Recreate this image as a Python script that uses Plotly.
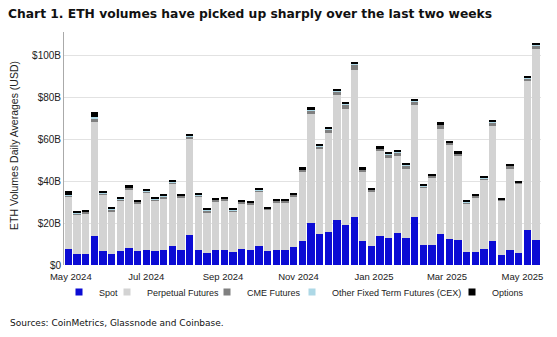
import plotly.graph_objects as go
import pandas as pd

weeks = pd.date_range("2024-04-29", periods=55, freq="7D")

spot = [7.6, 5.2, 5.2, 14.0, 6.8, 5.2, 6.8, 8.1, 6.5, 7.3, 6.5, 7.0, 9.0, 7.3,
        14.3, 7.3, 5.6, 7.3, 7.3, 6.2, 7.8, 7.3, 9.2, 6.5, 7.3, 7.0, 8.4, 11.6,
        19.8, 14.8, 15.9, 21.4, 18.9, 23.0, 11.3, 9.0, 13.7, 12.9, 15.2, 12.9, 23.0,
        9.5, 9.5, 14.8, 12.5, 12.1, 6.0, 6.0, 7.8, 11.6, 4.6, 7.0, 5.6, 16.5, 11.9]
perp = [24.9, 18.9, 19.5, 54.1, 26.6, 20.3, 23.8, 27.8, 22.8, 27.1, 24.1, 24.9, 29.4, 24.9,
        45.7, 25.2, 19.6, 23.0, 23.6, 19.1, 21.6, 21.7, 25.7, 19.8, 22.4, 22.7, 24.4, 32.8,
        52.2, 40.4, 47.1, 59.4, 55.6, 69.8, 33.2, 26.1, 40.4, 38.2, 36.6, 33.0, 53.3,
        27.3, 31.8, 50.1, 44.5, 40.0, 23.2, 26.1, 32.8, 54.7, 26.0, 38.7, 33.2, 71.3, 90.8]
cme = [0.8, 0.6, 0.6, 1.8, 0.8, 0.8, 0.8, 0.9, 0.8, 0.8, 0.8, 0.8, 1.0, 0.8,
       1.2, 0.8, 0.8, 0.8, 0.8, 0.8, 0.8, 0.8, 0.8, 0.6, 0.8, 0.8, 0.8, 1.0,
       1.8, 1.2, 1.5, 1.8, 1.8, 2.8, 1.0, 0.8, 1.2, 1.5, 1.8, 1.5, 1.5,
       0.8, 1.2, 1.8, 1.2, 1.0, 0.8, 0.8, 0.8, 1.5, 0.5, 1.5, 0.5, 1.0, 1.8]
other = [0.2, 0.2, 0.2, 0.5] + [0.2] * 51
options = [1.6, 0.8, 0.8, 2.5, 1.0, 1.0, 0.8, 0.9, 0.8, 0.8, 0.8, 0.8, 1.0, 0.8,
           1.0, 0.8, 0.6, 0.8, 0.6, 0.5, 0.6, 0.6, 0.6, 0.5, 0.6, 0.6, 0.6, 0.9,
           1.2, 1.0, 1.0, 1.0, 1.0, 1.0, 0.8, 0.6, 1.0, 1.0, 1.0, 1.0, 1.0,
           0.8, 0.8, 1.0, 0.8, 0.8, 0.4, 0.6, 0.6, 1.0, 0.3, 0.5, 0.3, 1.0, 1.0]

series_names = ["Spot", "Perpetual Futures", "CME Futures",
                "Other Fixed Term Futures (CEX)", "Options"]
series_values = [spot, perp, cme, other, options]
series_colors = ["#0b0bd4", "#d3d3d3", "#808080", "#add8e6", "#000000"]

y_tickvals = [0, 20, 40, 60, 80, 100]
y_ticktext = ["$0", "$20B", "$40B", "$60B", "$80B", "$100B"]

SANS = "Liberation Sans, Arial, sans-serif"

W, H = 557, 337
L, R, T, B = 64, 16, 32, 72
pw, ph = W - L - R, H - T - B

# legend text start positions (px)
legend_text_x = [99, 147, 247, 332, 492]
legend_ids = ["legend", "legend2", "legend3", "legend4", "legend5"]

fig = go.Figure()
for name, vals, col in zip(series_names, series_values, series_colors):
    fig.add_trace(go.Bar(x=weeks, y=vals, name=name, marker_color=col,
                         marker_line_width=0, showlegend=False))
# legend entries: small square swatches
for name, col, lid in zip(series_names, series_colors, legend_ids):
    fig.add_trace(go.Scatter(x=[None], y=[None], mode="markers", name=name,
                             marker=dict(symbol="square", size=7, color=col),
                             legend=lid, showlegend=True))

legend_layout = {}
for lid, tx in zip(legend_ids, legend_text_x):
    legend_layout[lid] = dict(
        orientation="h", x=(tx - 40 - L) / pw, xanchor="left",
        y=((H - B) - 292) / ph, yanchor="middle",
        font=dict(family=SANS, size=9, color="#222"),
        itemwidth=30, bgcolor="rgba(0,0,0,0)", borderwidth=0)

fig.update_layout(
    width=W, height=H,
    margin=dict(l=L, r=R, t=T, b=B, autoexpand=False),
    barmode="stack", bargap=0.155,
    paper_bgcolor="white", plot_bgcolor="white",
    font=dict(family=SANS, size=10, color="#222"),
    showlegend=True,
    title=dict(text="<b>Chart 1. ETH volumes have picked up sharply over the last two weeks</b>",
               x=8 / W, xref="container", xanchor="left",
               y=1 - 14 / H, yref="container", yanchor="middle",
               font=dict(family="DejaVu Sans, Verdana, sans-serif", size=12.3, color="#111")),
    **legend_layout,
)

fig.update_xaxes(
    type="date",
    range=["2024-04-25 12:00", "2025-05-16"],
    tickformat="%b %Y", dtick="M2", tick0="2024-05-01",
    showgrid=False, showline=False, ticks="",
    ticklabelstandoff=4,
    tickfont=dict(family=SANS, size=9.5, color="#222"),
)
fig.update_yaxes(
    range=[0, 111],
    tickvals=y_tickvals, ticktext=y_ticktext,
    showgrid=True, gridcolor="#e2e2e2", gridwidth=1,
    showline=True, linecolor="#aaaaaa", linewidth=1,
    ticks="", zeroline=False,
    tickfont=dict(family=SANS, size=10, color="#222"),
)

fig.add_annotation(text="ETH Volumes Daily Averages (USD)", textangle=-90,
                   xref="paper", yref="paper",
                   x=(14 - L) / pw, y=((H - B) - 146) / ph,
                   xanchor="center", yanchor="middle", showarrow=False,
                   font=dict(family=SANS, size=10.5, color="#222"))
fig.add_annotation(text="Sources: CoinMetrics, Glassnode and Coinbase.",
                   xref="paper", yref="paper",
                   x=(8 - L) / pw, y=((H - B) - 323) / ph,
                   xanchor="left", yanchor="middle", showarrow=False,
                   font=dict(family="DejaVu Sans, Verdana, sans-serif", size=9, color="#111"))

fig.write_html("out.html")
